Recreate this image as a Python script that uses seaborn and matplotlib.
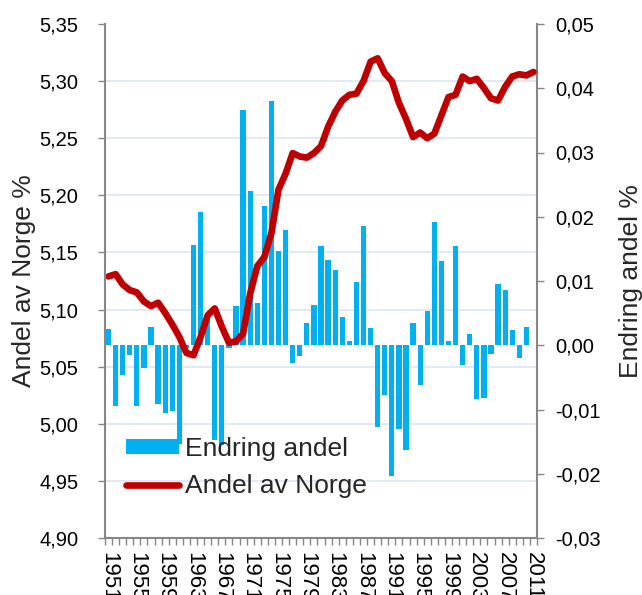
import numpy as np
import pandas as pd
import matplotlib
matplotlib.use("Agg")
import matplotlib.pyplot as plt
import seaborn as sns

years = list(range(1951, 2012))

# Andel av Norge % (left axis, line)
andel = [5.129, 5.131, 5.122, 5.117, 5.115, 5.107, 5.103, 5.106, 5.097, 5.087,
         5.076, 5.062, 5.060, 5.076, 5.095, 5.101, 5.085, 5.071, 5.072, 5.079,
         5.114, 5.138, 5.146, 5.167, 5.205, 5.219, 5.237, 5.234, 5.233, 5.237,
         5.243, 5.260, 5.273, 5.283, 5.288, 5.289, 5.300, 5.317, 5.320, 5.307,
         5.300, 5.281, 5.267, 5.251, 5.255, 5.250, 5.254, 5.270, 5.286, 5.288,
         5.304, 5.300, 5.302, 5.294, 5.285, 5.283, 5.295, 5.304, 5.306, 5.305,
         5.308]

# Endring andel % (right axis, bars)
endring = [0.0025, -0.0094, -0.0046, -0.0015, -0.0094, -0.0035, 0.0028, -0.0091, -0.0105, -0.0102,
           -0.0154, -0.0005, 0.0156, 0.0207, 0.0050, -0.0148, -0.0156, -0.0005, 0.0061, 0.0366,
           0.0240, 0.0065, 0.0216, 0.0380, 0.0146, 0.0179, -0.0027, -0.0016, 0.0034, 0.0062,
           0.0154, 0.0133, 0.0117, 0.0044, 0.0006, 0.0099, 0.0185, 0.0027, -0.0128, -0.0078,
           -0.0204, -0.0130, -0.0163, 0.0034, -0.0062, 0.0054, 0.0192, 0.0131, 0.0007, 0.0155,
           -0.0031, 0.0017, -0.0084, -0.0082, -0.0013, 0.0095, 0.0086, 0.0024, -0.0020, 0.0028,
           0.0]

left_ticks = [4.90, 4.95, 5.00, 5.05, 5.10, 5.15, 5.20, 5.25, 5.30, 5.35]
right_ticks = [-0.03, -0.02, -0.01, 0.00, 0.01, 0.02, 0.03, 0.04, 0.05]
label_years = years[::4]

BAR = "#00B0F0"
LINE = "#C00000"
GRAY = "#868686"
GRID = "#DCE6F2"

sns.set_theme(style="white")
plt.rcParams["font.family"] = ["Liberation Sans", "DejaVu Sans"]

df = pd.DataFrame({"year": years, "pos": np.arange(len(years)),
                   "andel": andel, "endring": endring})

fig = plt.figure(figsize=(6.42, 5.95), dpi=100)
ax_bar = fig.add_axes([105 / 642, 57 / 595, 432 / 642, 514 / 595])
ax_line = ax_bar.twinx()

lo, hi = left_ticks[0], left_ticks[-1]
rlo, rhi = right_ticks[0], right_ticks[-1]

# gridlines belong to the left scale, drawn behind the bars
for v in left_ticks[1:-1]:
    ax_bar.axhline(rlo + (v - lo) / (hi - lo) * (rhi - rlo), color=GRID, lw=1.2, zorder=0)

sns.barplot(data=df, x="year", y="endring", ax=ax_bar, color=BAR, saturation=1,
            width=0.74, errorbar=None, label="Endring andel", zorder=2,
            linewidth=0, edgecolor=BAR)
sns.lineplot(data=df, x="pos", y="andel", ax=ax_line, color=LINE, linewidth=4.8,
             label="Andel av Norge", solid_joinstyle="round", solid_capstyle="round",
             legend=False)

ax_bar.set_xlim(-0.5, len(years) - 0.5)
ax_bar.set_ylim(rlo, rhi)
ax_line.set_ylim(lo, hi)

ax_bar.yaxis.tick_right()
ax_bar.yaxis.set_label_position("right")
ax_line.yaxis.tick_left()
ax_line.yaxis.set_label_position("left")

ax_bar.set_yticks(right_ticks)
ax_bar.set_yticklabels([f"{v:.2f}".replace(".", ",") for v in right_ticks])
ax_line.set_yticks(left_ticks)
ax_line.set_yticklabels([f"{v:.2f}".replace(".", ",") for v in left_ticks])

ax_bar.set_xticks(range(0, len(years), 4))
ax_bar.set_xticklabels([str(y) for y in label_years], rotation=-90)
ax_bar.set_xticks(np.arange(-0.5, len(years)), minor=True)

ax_bar.tick_params(axis="x", which="major", length=0, pad=10, labelsize=16, labelcolor="black")
ax_bar.tick_params(axis="x", which="minor", length=5, width=1, color=GRAY, bottom=True)
ax_bar.tick_params(axis="y", which="major", right=True, left=False, length=5, width=1,
                   color=GRAY, pad=8, labelsize=14.5, labelcolor="black")
ax_line.tick_params(axis="y", which="major", left=True, right=False, length=5, width=1,
                    color=GRAY, pad=14, labelsize=14.5, labelcolor="black")

ax_bar.set_xlabel("")
ax_line.set_xlabel("")
ax_bar.set_ylabel("Endring andel %", fontsize=19, rotation=90)
ax_line.set_ylabel("Andel av Norge %", fontsize=19)
ax_line.yaxis.set_label_coords(-0.16, 0.5)
ax_bar.yaxis.set_label_coords(1.19, 0.5)

for ax in (ax_bar, ax_line):
    for s in ax.spines.values():
        s.set_visible(False)
ax_bar.spines["bottom"].set_visible(True)
ax_bar.spines["right"].set_visible(True)
ax_line.spines["left"].set_visible(True)
for s in (ax_bar.spines["bottom"], ax_bar.spines["right"], ax_line.spines["left"]):
    s.set_color(GRAY)
    s.set_linewidth(1.5)

h1, l1 = ax_bar.get_legend_handles_labels()
h2, l2 = ax_line.get_legend_handles_labels()
if ax_bar.get_legend() is not None:
    ax_bar.get_legend().remove()
ax_line.legend(h1[:1] + h2[:1], ["Endring andel", "Andel av Norge"],
               loc="upper left", bbox_to_anchor=(126 / 642, 1 - 437 / 595),
               bbox_transform=fig.transFigure, frameon=False, fontsize=19,
               borderpad=0, borderaxespad=0, handlelength=2.0, handleheight=0.5,
               handletextpad=0.25, labelspacing=0.5)

fig.savefig("out.png", dpi=100)
